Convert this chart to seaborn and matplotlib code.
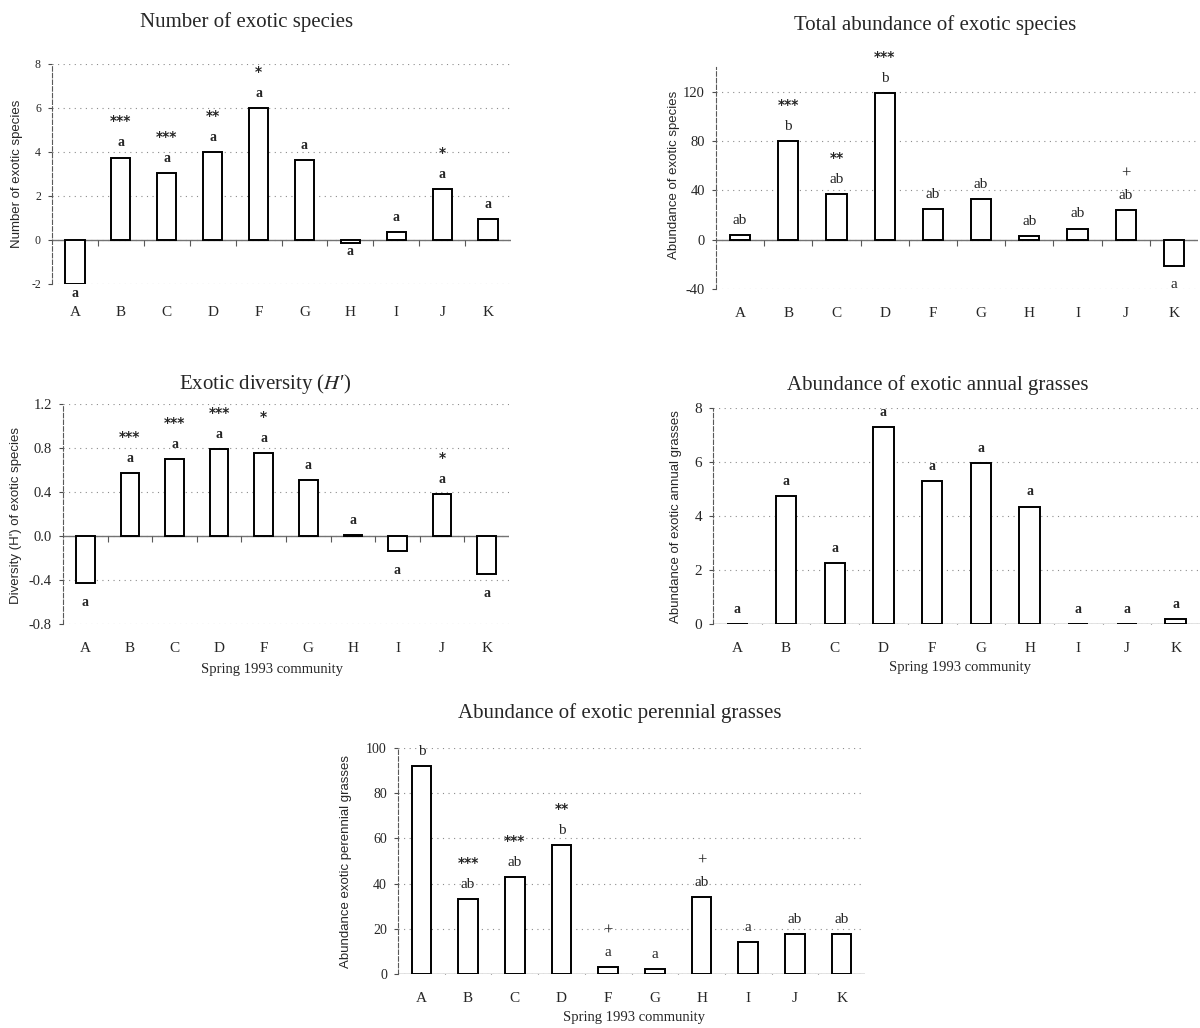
import numpy as np
import pandas as pd
import matplotlib
matplotlib.use("Agg")
import matplotlib.pyplot as plt
import seaborn as sns

# ---------------- data ----------------
categories = ["A", "B", "C", "D", "F", "G", "H", "I", "J", "K"]

num_species = [-2.0, 3.75, 3.05, 3.98, 5.98, 3.63, -0.12, 0.36, 2.32, 0.95]
num_letters = ["a", "a", "a", "a", "a", "a", "a", "a", "a", "a"]
num_sig = ["", "***", "***", "**", "*", "", "", "", "*", ""]

total_abund = [4, 80, 37, 119, 25, 33, 3, 9, 24, -21]
total_letters = ["ab", "b", "ab", "b", "ab", "ab", "ab", "ab", "ab", "a"]
total_sig = ["", "***", "**", "***", "", "", "", "", "+", ""]

diversity = [-0.43, 0.57, 0.70, 0.79, 0.75, 0.51, 0.01, -0.14, 0.38, -0.35]
div_letters = ["a", "a", "a", "a", "a", "a", "a", "a", "a", "a"]
div_sig = ["", "***", "***", "***", "*", "", "", "", "*", ""]

annual = [0.0, 4.75, 2.25, 7.3, 5.3, 5.95, 4.35, 0.0, 0.0, 0.2]
annual_letters = ["a", "a", "a", "a", "a", "a", "a", "a", "a", "a"]
annual_sig = ["", "", "", "", "", "", "", "", "", ""]

perennial = [92, 33, 43, 57, 3, 2, 34, 14, 17.5, 17.5]
per_letters = ["b", "ab", "ab", "b", "a", "a", "ab", "a", "ab", "ab"]
per_sig = ["", "***", "***", "**", "+", "", "+", "", "", ""]

# ---------------- style ----------------
sns.set_theme(style="white")
plt.rcParams["font.family"] = ["Liberation Serif", "DejaVu Serif"]
plt.rcParams["mathtext.fontset"] = "stix"

W, H = 1200, 1028
fig = plt.figure(figsize=(W / 100, H / 100), dpi=100)


def px_rect(l, r, top, bot):
    return [l / W, 1 - bot / H, (r - l) / W, (bot - top) / H]


def ftext(x, y, s, **kw):
    fig.text(x / W, 1 - y / H, s, ha="center", va="center", **kw)


def panel(rect, values, letters, sig, ylim, yticks, yticklabels, ylabel,
          ylab_px, tick_fs, letter_fs, letter_bold, neg_off=-13.5,
          xpad=13):
    ax = fig.add_axes(rect)
    df = pd.DataFrame({"cat": categories, "val": values})
    ax.yaxis.grid(True, linestyle=(0, (1, 4)), color="0.55", linewidth=0.8)
    ax.set_axisbelow(True)
    ax.axhline(0, color="0.45", linewidth=1.0, zorder=1)
    sns.barplot(data=df, x="cat", y="val", order=categories, ax=ax,
                color="white", edgecolor="black", linewidth=1.4,
                width=0.42, saturation=1, zorder=3)
    n = len(categories)
    ax.plot(np.arange(n - 1) + 0.5, np.zeros(n - 1), linestyle="none",
            marker=3, markersize=4, color="0.35", markeredgewidth=0.8,
            zorder=2)
    ax.set_xlim(-0.5, n - 0.5)
    ax.set_ylim(*ylim)
    ax.set_yticks(yticks)
    ax.set_yticklabels(yticklabels, fontsize=tick_fs)
    ax.tick_params(axis="y", length=3, width=0.8, color="0.3", pad=5,
                   left=True)
    ax.tick_params(axis="x", length=0, pad=xpad, labelsize=11)
    ax.set_xlabel("")
    ax.set_ylabel("")
    for s in ["top", "right", "bottom"]:
        ax.spines[s].set_visible(False)
    ax.spines["left"].set_linestyle((0, (4, 2)))
    ax.spines["left"].set_color("0.35")
    ax.spines["left"].set_linewidth(0.8)
    weight = "bold" if letter_bold else "normal"
    for i, (v, l, s) in enumerate(zip(values, letters, sig)):
        if v >= 0:
            ax.annotate(l, (i, v), xytext=(0, 10.5), textcoords="offset points",
                        ha="center", va="center", fontsize=letter_fs,
                        fontweight=weight, annotation_clip=False)
            if s:
                ax.annotate(s, (i, v), xytext=(0, 26), textcoords="offset points",
                            ha="center", va="center",
                            fontsize=10 if s != "+" else 12,
                            fontweight="bold" if s != "+" else "normal",
                            annotation_clip=False,
                            family=["DejaVu Sans"] if s != "+" else None)
        else:
            ax.annotate(l, (i, v), xytext=(0, neg_off), textcoords="offset points",
                        ha="center", va="center", fontsize=letter_fs,
                        fontweight=weight, annotation_clip=False)
    ftext(ylab_px[0], ylab_px[1], ylabel, rotation=90, fontsize=9.5,
          family=["Liberation Sans", "DejaVu Sans"])
    return ax


# Panel 1: Number of exotic species
panel(px_rect(52, 511, 64, 284), num_species, num_letters, num_sig,
      (-2, 8), [-2, 0, 2, 4, 6, 8], ["-2", "0", "2", "4", "6", "8"],
      "Number of exotic species", (17, 174), 8.5, 10, True,
      neg_off=-6.5, xpad=16)
ftext(247, 22, "Number of exotic species", fontsize=15)

# Panel 2: Total abundance
panel(px_rect(716, 1198, 67, 289), total_abund, total_letters, total_sig,
      (-40, 140), [-40, 0, 40, 80, 120], ["-40", "0", "40", "80", "120"],
      "Abundance of exotic species", (674, 175), 10.5, 11, False)
ftext(935, 25, "Total abundance of exotic species", fontsize=15)

# Panel 3: Diversity
panel(px_rect(63, 509, 404, 624), diversity, div_letters, div_sig,
      (-0.8, 1.2), [-0.8, -0.4, 0.0, 0.4, 0.8, 1.2],
      ["-0.8", "-0.4", "0.0", "0.4", "0.8", "1.2"],
      "Diversity (H') of exotic species", (16, 515), 10.5, 10, True)
ftext(265, 384, "Exotic diversity ($H$\u2032)", fontsize=15)
ftext(272, 669, "Spring 1993 community", fontsize=10.5)

# Panel 4: Annual grasses
panel(px_rect(713, 1200, 408, 624), annual, annual_letters, annual_sig,
      (0, 8), [0, 2, 4, 6, 8], ["0", "2", "4", "6", "8"],
      "Abundance of exotic annual grasses", (676, 517), 11, 10, True)
ftext(938, 385, "Abundance of exotic annual grasses", fontsize=15)
ftext(960, 668, "Spring 1993 community", fontsize=10.5)

# Panel 5: Perennial grasses
panel(px_rect(398, 865, 748, 974), perennial, per_letters, per_sig,
      (0, 100), [0, 20, 40, 60, 80, 100], ["0", "20", "40", "60", "80", "100"],
      "Abundance exotic perennial grasses", (346, 862), 10, 11, False)
ftext(620, 713, "Abundance of exotic perennial grasses", fontsize=15)
ftext(634, 1018, "Spring 1993 community", fontsize=10.5)

fig.savefig("out.png", dpi=100)
